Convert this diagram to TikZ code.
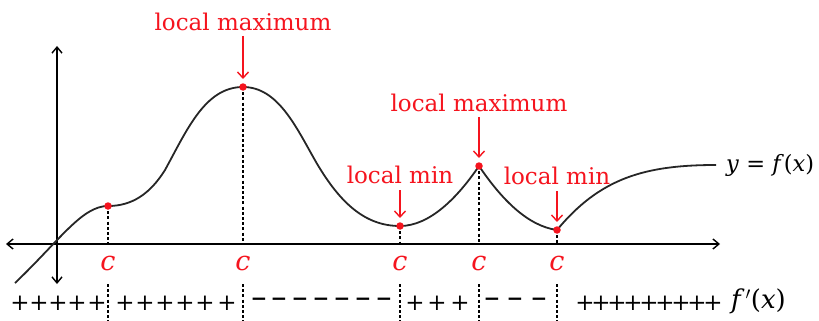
\documentclass[tikz,border=0pt]{standalone}
\usepackage{fontspec}
\setmainfont{DejaVu Serif}
\usetikzlibrary{arrows.meta}
\definecolor{lred}{RGB}{245,20,30}
\begin{document}
\begin{tikzpicture}[x=1pt,y=-1pt,
  axis/.style={line width=1.4pt,{Straight Barb[length=6pt,width=10pt,line width=1.4pt]}-{Straight Barb[length=6pt,width=10pt,line width=1.4pt]}},
  fcurve/.style={line width=1.8pt,black!85},
  guide/.style={line width=1.2pt,dash pattern=on 3pt off 2.2pt},
  lbl/.style={text=lred,font=\fontsize{23}{26}\selectfont,inner sep=1pt},
  clbl/.style={text=lred,font=\fontsize{27}{29}\selectfont\itshape,inner sep=0pt},
  redarrow/.style={lred,line width=1.4pt,-{Straight Barb[length=6pt,width=11pt,line width=1.4pt]}},
  critdot/.style={circle,fill=lred,inner sep=0pt,minimum size=7.5pt},
  sign/.style={font=\fontsize{23}{26}\selectfont,inner sep=0pt},
  msign/.style={font=\fontsize{20}{23}\selectfont\bfseries,inner sep=0pt}]
\useasboundingbox (0,0) rectangle (819,321);
% axes
\coordinate (o) at (57,244);
\coordinate (xl) at (6,244);
\coordinate (xr) at (720,244);
\coordinate (yt) at (57,46);
\coordinate (yb) at (57,284);
\draw[axis] (xl) -- (xr);
\draw[axis] (yb) -- (yt);
% critical points
\coordinate (p1) at (108,206);
\coordinate (p2) at (243,87);
\coordinate (p3) at (400,226);
\coordinate (p4) at (479,166);
\coordinate (p5) at (557,230);
\coordinate (s) at (15,283);
\coordinate (e) at (716,165);
% guides
\foreach \p in {p1,p2,p3,p4,p5}{
  \draw[guide] (\p) -- (\p |- o);
  \draw[guide] (\p |- 0,284) -- (\p |- 0,321);
}
% curve
\draw[fcurve] (s) .. controls (60,240) and (82,206) .. (p1)
  .. controls (132,206) and (150,194) .. (165,170)
  .. controls (187,130) and (205,87) .. (p2)
  .. controls (278,87) and (296,127) .. (316,162)
  .. controls (340,203) and (365,226) .. (p3)
  .. controls (430,226) and (458,197) .. (p4)
  .. controls (502,200) and (528,226) .. (p5)
  .. controls (600,178) and (645,165) .. (e);
\foreach \p in {p1,p2,p3,p4,p5}{\node[critdot] at (\p) {};}
% c labels
\foreach \p/\n in {p1/c1,p2/c2,p3/c3,p4/c4,p5/c5}{
  \node[clbl] (\n) at (\p |- 0,263) {c};
}
% labels
\node[lbl] (lm1) at (243,22) {local maximum};
\node[lbl] (lm2) at (479,103) {local maximum};
\node[lbl] (ln1) at (400,175) {local min};
\node[lbl] (ln2) at (557,176) {local min};
\draw[redarrow] (243,36) -- ([yshift=8pt]p2);
\draw[redarrow] (479,117) -- ([yshift=8pt]p4);
\draw[redarrow] (400,190) -- ([yshift=8pt]p3);
\draw[redarrow] (557,191) -- ([yshift=8pt]p5);
\node[font=\fontsize{22.5}{25}\selectfont,anchor=west,inner sep=0pt] (fx) at (726,165) {\textit{y} = \textit{f}(\textit{x})};
% sign row
\foreach \x [count=\i] in {20,39,58,77,97,125,145,165,185,205,227,415,437,460,585,601,617,633,649,665,681,697,713}{
  \node[sign] (pl\i) at (\x,303) {+};
}
\foreach \x [count=\i] in {259,279,300,321,342,363,384,492,515,539}{
  \node[msign] (mi\i) at (\x,302) {−};
}
\node[font=\fontsize{26}{28}\selectfont,anchor=west,inner sep=0pt] (fp) at (731,301) {\textit{f}\kern1pt$'$(\textit{x})};
\end{tikzpicture}
\end{document}
